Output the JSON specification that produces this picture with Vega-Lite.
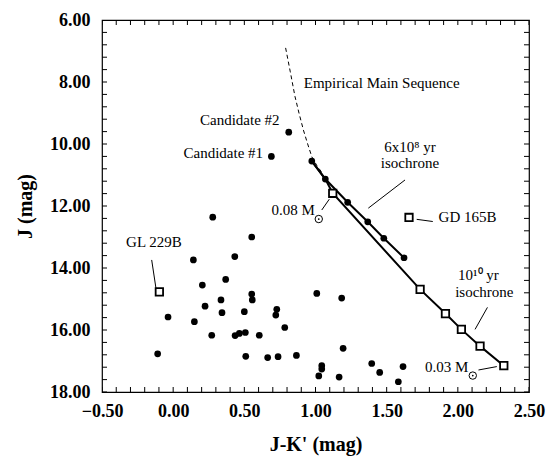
{
  "$schema": "https://vega.github.io/schema/vega-lite/v6.json",
  "autosize": "none",
  "width": 427,
  "height": 372,
  "padding": {"left": 102, "top": 20, "right": 18, "bottom": 71},
  "background": "white",
  "config": {
    "view": {"stroke": "black", "strokeWidth": 1.2},
    "font": "Liberation Serif",
    "text": {"font": "Liberation Serif"}
  },
  "datasets": {
    "xticks": [
      {"v": -0.5}, {"v": -0.4}, {"v": -0.3}, {"v": -0.2}, {"v": -0.1}, {"v": 0}, {"v": 0.1}, {"v": 0.2}, {"v": 0.3}, {"v": 0.4},
      {"v": 0.5}, {"v": 0.6}, {"v": 0.7}, {"v": 0.8}, {"v": 0.9}, {"v": 1}, {"v": 1.1}, {"v": 1.2}, {"v": 1.3}, {"v": 1.4},
      {"v": 1.5}, {"v": 1.6}, {"v": 1.7}, {"v": 1.8}, {"v": 1.9}, {"v": 2}, {"v": 2.1}, {"v": 2.2}, {"v": 2.3}, {"v": 2.4}, {"v": 2.5}
    ],
    "yticks": [
      {"v": 6}, {"v": 6.4}, {"v": 6.8}, {"v": 7.2}, {"v": 7.6}, {"v": 8}, {"v": 8.4}, {"v": 8.8}, {"v": 9.2}, {"v": 9.6},
      {"v": 10}, {"v": 10.4}, {"v": 10.8}, {"v": 11.2}, {"v": 11.6}, {"v": 12}, {"v": 12.4}, {"v": 12.8}, {"v": 13.2}, {"v": 13.6},
      {"v": 14}, {"v": 14.4}, {"v": 14.8}, {"v": 15.2}, {"v": 15.6}, {"v": 16}, {"v": 16.4}, {"v": 16.8}, {"v": 17.2}, {"v": 17.6}, {"v": 18}
    ],
    "stars": [
      {"x": 0.812, "y": 9.62}, {"x": 0.690, "y": 10.40}, {"x": 0.278, "y": 12.36},
      {"x": 0.552, "y": 13.0}, {"x": 0.142, "y": 13.74}, {"x": 0.433, "y": 13.63},
      {"x": 0.369, "y": 14.37}, {"x": 0.205, "y": 14.55}, {"x": 0.552, "y": 14.84},
      {"x": 0.556, "y": 15.03}, {"x": 0.336, "y": 15.03}, {"x": 0.224, "y": 15.23},
      {"x": 0.500, "y": 15.41}, {"x": 0.343, "y": 15.44}, {"x": 0.728, "y": 15.33},
      {"x": 0.721, "y": 15.52}, {"x": -0.036, "y": 15.58}, {"x": 0.149, "y": 15.73},
      {"x": 0.784, "y": 15.92}, {"x": 0.271, "y": 16.17}, {"x": 0.435, "y": 16.18},
      {"x": 0.465, "y": 16.11}, {"x": 0.507, "y": 16.08}, {"x": 0.605, "y": 16.17},
      {"x": 1.009, "y": 14.82}, {"x": 1.184, "y": 14.97}, {"x": -0.109, "y": 16.77},
      {"x": 0.510, "y": 16.85}, {"x": 0.664, "y": 16.89}, {"x": 0.737, "y": 16.86},
      {"x": 0.866, "y": 16.82}, {"x": 1.194, "y": 16.59}, {"x": 1.044, "y": 17.15},
      {"x": 1.044, "y": 17.26}, {"x": 1.023, "y": 17.48}, {"x": 1.166, "y": 17.52},
      {"x": 1.395, "y": 17.08}, {"x": 1.451, "y": 17.37}, {"x": 1.615, "y": 17.18},
      {"x": 1.582, "y": 17.67},
      {"x": 0.974, "y": 10.55}, {"x": 1.069, "y": 11.13}, {"x": 1.226, "y": 11.88},
      {"x": 1.367, "y": 12.51}, {"x": 1.480, "y": 13.04}, {"x": 1.622, "y": 13.67}
    ],
    "iso": [
      {"iso": "6e8", "o": 1, "x": 0.974, "y": 10.55},
      {"iso": "6e8", "o": 2, "x": 1.069, "y": 11.13},
      {"iso": "6e8", "o": 3, "x": 1.226, "y": 11.88},
      {"iso": "6e8", "o": 4, "x": 1.367, "y": 12.51},
      {"iso": "6e8", "o": 5, "x": 1.480, "y": 13.04},
      {"iso": "6e8", "o": 6, "x": 1.622, "y": 13.67},
      {"iso": "1e10", "o": 1, "x": 0.974, "y": 10.55},
      {"iso": "1e10", "o": 2, "x": 1.069, "y": 11.13},
      {"iso": "1e10", "o": 3, "x": 1.121, "y": 11.59},
      {"iso": "1e10", "o": 4, "x": 1.735, "y": 14.69},
      {"iso": "1e10", "o": 5, "x": 1.913, "y": 15.47},
      {"iso": "1e10", "o": 6, "x": 2.025, "y": 15.98},
      {"iso": "1e10", "o": 7, "x": 2.156, "y": 16.52},
      {"iso": "1e10", "o": 8, "x": 2.323, "y": 17.15}
    ],
    "ms": [
      {"o": 1, "x": 0.790, "y": 6.90}, {"o": 2, "x": 0.822, "y": 7.65},
      {"o": 3, "x": 0.856, "y": 8.47}, {"o": 4, "x": 0.885, "y": 9.02},
      {"o": 5, "x": 0.915, "y": 9.55}, {"o": 6, "x": 0.945, "y": 10.00},
      {"o": 7, "x": 0.974, "y": 10.41}, {"o": 8, "x": 1.010, "y": 10.70},
      {"o": 9, "x": 1.050, "y": 10.95}
    ],
    "squares": [
      {"x": 1.121, "y": 11.59}, {"x": 1.735, "y": 14.69}, {"x": 1.913, "y": 15.47},
      {"x": 2.025, "y": 15.98}, {"x": 2.156, "y": 16.52}, {"x": 2.323, "y": 17.15},
      {"x": -0.097, "y": 14.77}, {"x": 1.657, "y": 12.37}
    ],
    "leaders": [
      {"x": 1.044, "y": 12.13, "x2": 1.097, "y2": 11.78},
      {"x": 1.371, "y": 12.07, "x2": 1.629, "y2": 11.16},
      {"x": 1.711, "y": 12.43, "x2": 1.824, "y2": 12.50},
      {"x": -0.151, "y": 13.74, "x2": -0.121, "y2": 14.65},
      {"x": 2.121, "y": 15.98, "x2": 2.208, "y2": 15.27},
      {"x": 2.145, "y": 17.29, "x2": 2.274, "y2": 17.18}
    ],
    "labels": [
      {"x": 1.465, "y": 8.04, "t": "Empirical Main Sequence"},
      {"x": 0.468, "y": 9.23, "t": "Candidate #2"},
      {"x": 0.352, "y": 10.30, "t": "Candidate #1"},
      {"x": 1.664, "y": 10.09, "t": "6x10⁸ yr"},
      {"x": 1.664, "y": 10.62, "t": "isochrone"},
      {"x": 0.844, "y": 12.13, "t": "0.08 M"},
      {"x": 2.068, "y": 12.34, "t": "GD 165B"},
      {"x": -0.135, "y": 13.15, "t": "GL 229B"},
      {"x": 2.145, "y": 14.23, "t": "10¹⁰ yr"},
      {"x": 2.186, "y": 14.76, "t": "isochrone"},
      {"x": 1.922, "y": 17.18, "t": "0.03 M"}
    ],
    "sun": [
      {"x": 1.023, "y": 12.42}, {"x": 2.105, "y": 17.47}
    ]
  },
  "layer": [
    {
      "data": {"name": "ms"},
      "mark": {"type": "line", "color": "black", "strokeWidth": 1, "strokeDash": [4, 3]},
      "encoding": {
        "x": {"field": "x", "type": "quantitative",
          "scale": {"domain": [-0.5, 2.5], "nice": false, "zero": false},
          "axis": {
            "title": "J-K' (mag)", "titleFont": "Liberation Serif", "titleFontSize": 20,
            "titleFontWeight": "bold", "titleColor": "black", "titlePadding": 14,
            "values": [-0.5, 0, 0.5, 1, 1.5, 2, 2.5], "format": ".2f",
            "ticks": false, "tickSize": 0, "domain": false, "grid": false,
            "labelFont": "Liberation Serif", "labelFontSize": 18, "labelFontWeight": "bold",
            "labelColor": "black", "labelPadding": 10, "labelOverlap": false, "labelFlush": false
          }},
        "y": {"field": "y", "type": "quantitative",
          "scale": {"domain": [6, 18], "reverse": true, "nice": false, "zero": false},
          "axis": {
            "title": "J (mag)", "titleFont": "Liberation Serif", "titleFontSize": 20,
            "titleFontWeight": "bold", "titleColor": "black", "titlePadding": 14,
            "values": [6, 8, 10, 12, 14, 16, 18], "format": ".2f",
            "ticks": false, "tickSize": 0, "domain": false, "grid": false,
            "labelFont": "Liberation Serif", "labelFontSize": 18, "labelFontWeight": "bold",
            "labelColor": "black", "labelPadding": 12, "labelOverlap": false, "labelFlush": false
          }},
        "order": {"field": "o"}
      }
    },
    {
      "data": {"name": "xticks"},
      "mark": {"type": "tick", "orient": "vertical", "color": "black", "size": 10, "thickness": 1, "clip": true, "opacity": 1},
      "encoding": {
        "x": {"field": "v", "type": "quantitative", "axis": null},
        "y": {"datum": 18, "type": "quantitative", "axis": null}
      }
    },
    {
      "data": {"name": "xticks"},
      "mark": {"type": "tick", "orient": "vertical", "color": "black", "size": 10, "thickness": 1, "clip": true, "opacity": 1},
      "encoding": {
        "x": {"field": "v", "type": "quantitative", "axis": null},
        "y": {"datum": 6, "type": "quantitative", "axis": null}
      }
    },
    {
      "data": {"name": "yticks"},
      "mark": {"type": "tick", "orient": "horizontal", "color": "black", "size": 10, "thickness": 1, "clip": true, "opacity": 1},
      "encoding": {
        "y": {"field": "v", "type": "quantitative", "axis": null},
        "x": {"datum": -0.5, "type": "quantitative", "axis": null}
      }
    },
    {
      "data": {"name": "yticks"},
      "mark": {"type": "tick", "orient": "horizontal", "color": "black", "size": 10, "thickness": 1, "clip": true, "opacity": 1},
      "encoding": {
        "y": {"field": "v", "type": "quantitative", "axis": null},
        "x": {"datum": 2.5, "type": "quantitative", "axis": null}
      }
    },
    {
      "data": {"name": "iso"},
      "mark": {"type": "line", "color": "black", "strokeWidth": 2},
      "encoding": {
        "x": {"field": "x", "type": "quantitative", "axis": null},
        "y": {"field": "y", "type": "quantitative", "axis": null},
        "detail": {"field": "iso"},
        "order": {"field": "o"}
      }
    },
    {
      "data": {"name": "leaders"},
      "mark": {"type": "rule", "color": "black", "strokeWidth": 1},
      "encoding": {
        "x": {"field": "x", "type": "quantitative", "axis": null},
        "y": {"field": "y", "type": "quantitative", "axis": null},
        "x2": {"field": "x2"},
        "y2": {"field": "y2"}
      }
    },
    {
      "data": {"name": "stars"},
      "mark": {"type": "point", "shape": "circle", "filled": true, "color": "black", "opacity": 1, "size": 45},
      "encoding": {
        "x": {"field": "x", "type": "quantitative", "axis": null},
        "y": {"field": "y", "type": "quantitative", "axis": null}
      }
    },
    {
      "data": {"name": "squares"},
      "mark": {"type": "point", "shape": "square", "filled": true, "fill": "white", "stroke": "black", "strokeWidth": 1.8, "opacity": 1, "size": 55},
      "encoding": {
        "x": {"field": "x", "type": "quantitative", "axis": null},
        "y": {"field": "y", "type": "quantitative", "axis": null}
      }
    },
    {
      "data": {"name": "sun"},
      "mark": {"type": "point", "shape": "circle", "filled": false, "stroke": "black", "strokeWidth": 1, "opacity": 1, "size": 55},
      "encoding": {
        "x": {"field": "x", "type": "quantitative", "axis": null},
        "y": {"field": "y", "type": "quantitative", "axis": null}
      }
    },
    {
      "data": {"name": "sun"},
      "mark": {"type": "point", "shape": "circle", "filled": true, "color": "black", "opacity": 1, "size": 3},
      "encoding": {
        "x": {"field": "x", "type": "quantitative", "axis": null},
        "y": {"field": "y", "type": "quantitative", "axis": null}
      }
    },
    {
      "data": {"name": "labels"},
      "mark": {"type": "text", "font": "Liberation Serif", "fontSize": 15, "color": "black", "align": "center", "baseline": "middle"},
      "encoding": {
        "x": {"field": "x", "type": "quantitative", "axis": null},
        "y": {"field": "y", "type": "quantitative", "axis": null},
        "text": {"field": "t"}
      }
    }
  ],
  "resolve": {"axis": {"x": "independent", "y": "independent"}}
}
